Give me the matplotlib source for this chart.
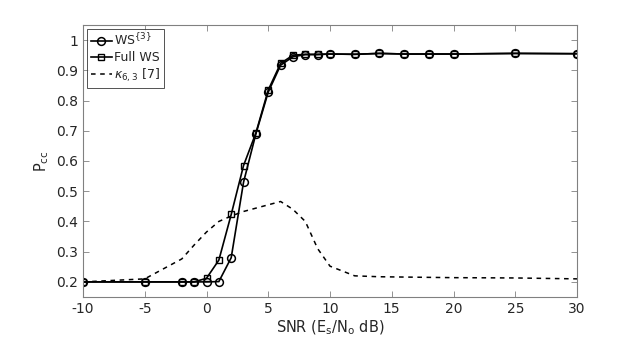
import matplotlib
matplotlib.use("Agg")
import matplotlib.pyplot as plt

plt.rcParams['font.family'] = ['DejaVu Sans']
plt.rcParams['mathtext.default'] = 'regular'

snr = [-10, -5, -2, -1, 0, 1, 2, 3, 4, 5, 6, 7, 8, 9, 10, 12, 14, 16, 18, 20, 25, 30]
ws3 = [0.200, 0.200, 0.200, 0.200, 0.200, 0.201, 0.280, 0.530, 0.690, 0.828, 0.917, 0.945,
       0.952, 0.952, 0.954, 0.953, 0.956, 0.954, 0.954, 0.954, 0.956, 0.955]
full_ws = [0.200, 0.200, 0.200, 0.200, 0.212, 0.272, 0.423, 0.585, 0.693, 0.835, 0.923, 0.950,
           0.953, 0.953, 0.954, 0.953, 0.956, 0.954, 0.954, 0.954, 0.956, 0.955]
kappa = [0.200, 0.210, 0.276, 0.322, 0.365, 0.400, 0.418, 0.433, 0.444, 0.455, 0.466, 0.440,
         0.400, 0.310, 0.252, 0.220, 0.217, 0.216, 0.215, 0.214, 0.213, 0.210]

xticks = [-10, -5, 0, 5, 10, 15, 20, 25, 30]
yticks = [0.2, 0.3, 0.4, 0.5, 0.6, 0.7, 0.8, 0.9, 1.0]
ytick_labels = ['0.2', '0.3', '0.4', '0.5', '0.6', '0.7', '0.8', '0.9', '1']

fig = plt.figure(figsize=(6.38, 3.44), dpi=100)
ax = fig.add_axes([83/638, 47/344, 494/638, 272/344])

ax.plot(snr, ws3, color='black', lw=1.2, marker='o', ms=5.6, mfc='none', mec='black', mew=1.1,
        label='WS$^{\\{3\\}}$')
ax.plot(snr, full_ws, color='black', lw=1.2, marker='s', ms=4.6, mfc='none', mec='black', mew=1.0,
        label='Full WS')
ax.plot(snr, kappa, color='black', lw=1.1, ls=(0, (3, 3)), label='$\\mathit{\\kappa}_{6,3}$ [7]')

ax.set_xlim(-10, 30)
ax.set_ylim(0.15, 1.05)
ax.set_xticks(xticks)
ax.set_xticklabels([str(t) for t in xticks])
ax.set_yticks(yticks)
ax.set_yticklabels(ytick_labels)

gray = '#808080'
txt = '#262626'
for s in ax.spines.values():
    s.set_color(gray)
    s.set_linewidth(0.8)
ax.tick_params(direction='in', length=4, width=0.6, colors=gray, labelcolor=txt,
               labelsize=10, top=True, right=True)

ax.set_xlabel('SNR (E$_s$/N$_o$ dB)', fontsize=10.5, color=txt, labelpad=2)
ax.set_ylabel('P$_{cc}$', fontsize=10.5, color=txt, labelpad=4)

leg = ax.legend(loc='upper left', fontsize=9, frameon=True, fancybox=False,
                handlelength=1.7, handletextpad=0.2, borderpad=0.3, labelspacing=0.2,
                borderaxespad=0.3)
leg.get_frame().set_edgecolor(txt)
leg.get_frame().set_linewidth(0.7)
for t in leg.get_texts():
    t.set_color(txt)

fig.savefig('out.png', dpi=100)
